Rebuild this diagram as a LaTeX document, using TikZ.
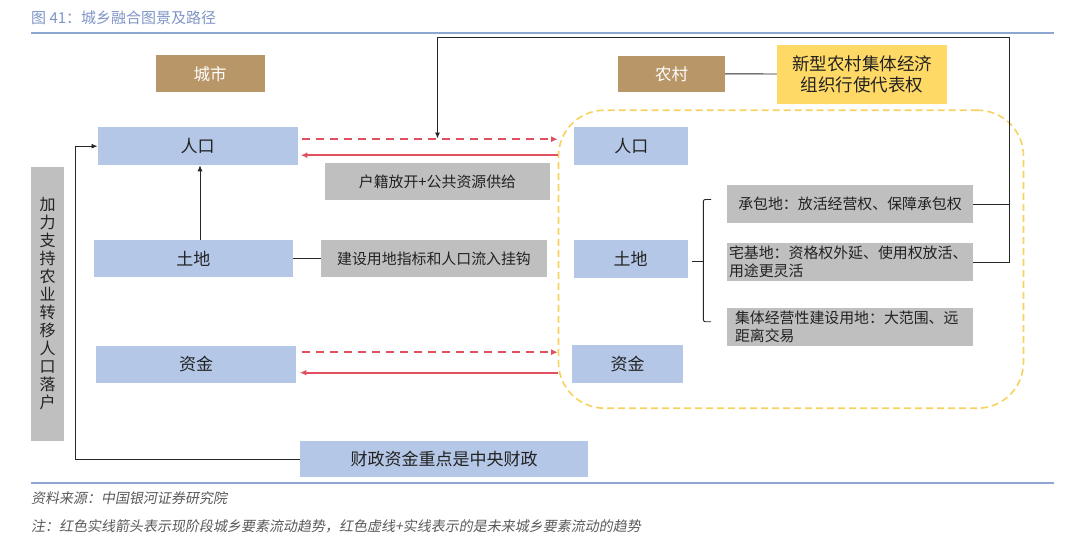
\documentclass[tikz,border=0pt]{standalone}
\usepackage{fontspec}
\setmainfont{Noto Sans CJK SC}
\newfontfamily\slantcjk[FakeSlant=0.18]{Noto Sans CJK SC}
\usepackage{tikz}
\usetikzlibrary{arrows.meta,positioning,calc}
\definecolor{boxblue}{HTML}{B4C7E7}
\definecolor{boxgray}{HTML}{BFBFBF}
\definecolor{boxtan}{HTML}{B99668}
\definecolor{boxyellow}{HTML}{FFD966}
\definecolor{flowred}{HTML}{E0505E}
\definecolor{zoneyellow}{HTML}{F6D35E}
\definecolor{rulecol}{HTML}{8EA6D2}
\definecolor{titlecol}{HTML}{7F95C6}
\definecolor{textdark}{HTML}{222222}
\definecolor{footgray}{HTML}{595959}
\tikzset{
  cellbox/.style={draw=none, inner sep=0pt, align=center, text=textdark,
    font=\fontsize{17}{20}\selectfont},
  citybox/.style={cellbox, fill=boxblue},
  notebox/.style={cellbox, fill=boxgray, font=\fontsize{14.9}{18.5}\selectfont},
  headbox/.style={cellbox, fill=boxtan, text=white, font=\fontsize{16.5}{20}\selectfont},
  zonebox/.style={draw=zoneyellow, line width=1.6pt, dash pattern=on 7pt off 4pt,
    rounded corners=46pt, inner sep=0pt},
  future/.style={flowred, line width=2.3pt, dash pattern=on 8pt off 6pt,
    -{Latex[length=6.5pt,width=6pt]}},
  present/.style={flowred, line width=2.3pt, -{Latex[length=6.5pt,width=6pt]}},
  link/.style={black!85, line width=0.9pt},
  linkarrow/.style={link, -{Latex[length=6pt,width=5pt]}}
}

\begin{document}
\begin{tikzpicture}[x=1pt, y=-1pt]
    \useasboundingbox (0,0) rectangle (1080,552);

    % header and rules
    \node[anchor=west, text=titlecol, font=\fontsize{15}{18}\selectfont, inner sep=0pt] (title) at (31,18) {图 41：城乡融合图景及路径};
    \draw[rulecol, line width=1.5pt] (31,33) -- (1054,33);
    \draw[rulecol, line width=1.5pt] (31,483) -- (1054,483);

    % rural zone
    \node[zonebox, minimum width=465pt, minimum height=298pt] (zone) at (791,259.2) {};

    % headers
    \node[headbox, minimum width=109pt, minimum height=37pt] (cityhd) at (210,73.7) {城市};
    \node[headbox, minimum width=107pt, minimum height=36.5pt] (ruralhd) at (671.5,73.8) {农村};
    \node[cellbox, fill=boxyellow, minimum width=170pt, minimum height=59pt,
          font=\fontsize{17.5}{21}\selectfont] (collective) at (862,74) {新型农村集体经济\\组织行使代表权};

    % city side
    \node[citybox, minimum width=200pt, minimum height=37.7pt] (popc) at (197.7,146.2) {人口};
    \node[citybox, minimum width=199pt, minimum height=37.5pt] (landc) at (193.3,258.7) {土地};
    \node[citybox, minimum width=199.5pt, minimum height=37pt] (fundc) at (196,364.2) {资金};
    \node[notebox, minimum width=225pt, minimum height=37pt] (hukou) at (437.5,181.5) {户籍放开+公共资源供给};
    \node[notebox, minimum width=226pt, minimum height=37.5pt] (quota) at (434,258.7) {建设用地指标和人口流入挂钩};
    \node[citybox, minimum width=288pt, minimum height=36pt] (fiscal) at (444,459) {财政资金重点是中央财政};
    \node[cellbox, fill=boxgray, minimum width=33pt, minimum height=274pt,
          font=\fontsize{16}{18}\selectfont] (settle) at (47.5,303.7)
          {加\\力\\支\\持\\农\\业\\转\\移\\人\\口\\落\\户};

    % rural side
    \node[citybox, minimum width=114pt, minimum height=37.7pt] (popr) at (631.3,146.2) {人口};
    \node[citybox, minimum width=114pt, minimum height=37.7pt] (landr) at (630.7,258.8) {土地};
    \node[citybox, minimum width=110.5pt, minimum height=37.7pt] (fundr) at (627.5,364.2) {资金};
    \node[notebox, minimum width=246.5pt, minimum height=37.7pt] (contract) at (850,204) {承包地：放活经营权、保障承包权};
    \node[notebox, align=left, text width=242pt, inner xsep=2.2pt, minimum height=38pt] (homestead) at (850,262)
          {宅基地：资格权外延、使用权放活、\\用途更灵活};
    \node[notebox, align=left, text width=230pt, inner xsep=8.2pt, minimum height=37.7pt] (collland) at (850,327)
          {集体经营性建设用地：大范围、远\\距离交易};

    % flows between city and village
    \draw[future] ([xshift=4pt,yshift=7pt]popc.east) -- ([yshift=7pt]popc.east -| zone.west);
    \draw[present] ([yshift=-9pt]popc.east -| zone.west) -- ([xshift=3pt,yshift=-9pt]popc.east);
    \draw[future] ([xshift=6pt,yshift=12pt]fundc.east) -- ([yshift=12pt]fundc.east -| zone.west);
    \draw[present] ([yshift=-8.5pt]fundc.east -| zone.west) -- ([xshift=4pt,yshift=-8.5pt]fundc.east);

    % black connectors
    \coordinate (landtop) at ([xshift=6.7pt]landc.north);
    \draw[linkarrow] (landtop) -- (landtop |- popc.south);
    \draw[link] (landc.east) -- (quota.west);
    \draw[link] (ruralhd.east) -- (collective.west);
    \coordinate (leftrail) at (75,146.2);
    \draw[linkarrow] (fiscal.west) -| (leftrail) -- (popc.west);
    \coordinate (rail) at (1009.3,37);
    \coordinate (drop) at (437.5,138.5);
    \draw[linkarrow] (homestead.east) -| (rail) -| (drop);
    \draw[link] (contract.east) -- (contract.east -| rail);

    % bracket for land types
    \coordinate (brk) at (703.3,261);
    \draw[link] ([xshift=4pt]landr.east |- brk) -- (brk);
    \draw[link, rounded corners=2pt] (711,199.5) -- (703.3,199.5) -- (703.3,321.7) -- (711,321.7);

    % footer
    \node[anchor=west, text=footgray, font=\slantcjk\fontsize{14}{17}\selectfont, inner sep=0pt] (source) at (31,498) {资料来源：中国银河证券研究院};
    \node[anchor=west, text=footgray, font=\slantcjk\fontsize{14}{17}\selectfont, inner sep=0pt] (footnote) at (31,526) {注：红色实线箭头表示现阶段城乡要素流动趋势，红色虚线+实线表示的是未来城乡要素流动的趋势};
\end{tikzpicture}
\end{document}
